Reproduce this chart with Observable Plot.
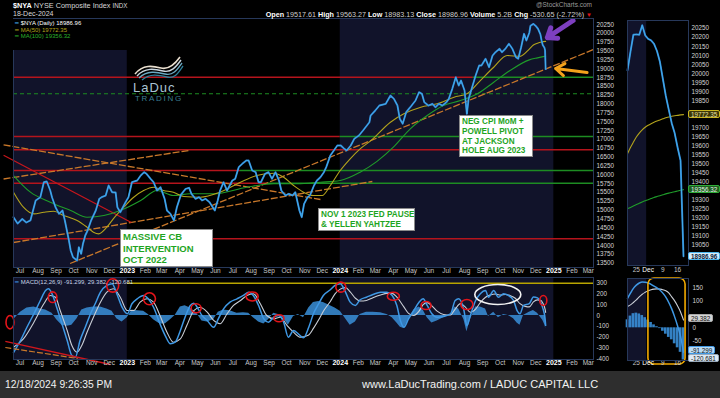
<!DOCTYPE html>
<html><head><meta charset="utf-8">
<script src="https://cdn.jsdelivr.net/npm/d3@7"></script>
<script src="https://cdn.jsdelivr.net/npm/@observablehq/plot@0.6"></script>
<style>
body{margin:0;background:#000;}
#chart{position:relative;width:720px;height:398px;overflow:hidden;background:#000;font-family:"Liberation Sans",Arial,sans-serif;color:#ddd;}
.abs{position:absolute;white-space:nowrap;}
.note{position:absolute;background:#fff;border:1px solid #8a8a8a;color:#1fa51f;font-weight:bold;white-space:nowrap;box-sizing:border-box;}
.vbox{position:absolute;font-size:6.3px;padding:0 2px;line-height:7.5px;height:8px;border:1px solid;border-radius:2px;box-sizing:border-box;}
</style></head><body>
<div id="chart"></div>
<script>
// ---------------- DATA ----------------
const nyaClose = [["2022-06-20",14800],["2022-06-27",14620],["2022-07-05",14750],["2022-07-12",14650],["2022-07-19",14710],["2022-07-28",15273],["2022-08-05",15366],["2022-08-11",15790],["2022-08-16",15810],["2022-08-22",15555],["2022-08-25",15366],["2022-08-31",15083],["2022-09-06",14896],["2022-09-12",14990],["2022-09-16",14707],["2022-09-23",14141],["2022-09-26",13858],["2022-09-30",13669],["2022-10-07",13575],["2022-10-10",13952],["2022-10-14",13763],["2022-10-17",14046],["2022-10-21",14283],["2022-10-25",14424],["2022-10-31",14707],["2022-11-08",14990],["2022-11-14",15320],["2022-11-18",15366],["2022-11-25",15414],["2022-11-30",15697],["2022-12-06",15508],["2022-12-12",15500],["2022-12-15",15083],["2022-12-20",14942],["2022-12-29",15225],["2023-01-03",15366],["2023-01-09",15790],["2023-01-18",15838],["2023-01-24",15980],["2023-01-30",16074],["2023-02-03",16027],["2023-02-10",15886],["2023-02-15",15790],["2023-02-21",15555],["2023-02-27",15649],["2023-03-06",15320],["2023-03-10",14990],["2023-03-16",14896],["2023-03-22",14707],["2023-03-27",15083],["2023-04-03",15440],["2023-04-11",15604],["2023-04-17",15632],["2023-04-21",15462],["2023-04-28",15320],["2023-05-04",15366],["2023-05-09",15273],["2023-05-15",15320],["2023-05-22",15225],["2023-05-31",14990],["2023-06-05",15273],["2023-06-09",15555],["2023-06-15",15790],["2023-06-21",15555],["2023-06-30",15838],["2023-07-05",15886],["2023-07-11",16215],["2023-07-17",16310],["2023-07-24",16404],["2023-07-28",16404],["2023-08-03",16121],["2023-08-09",16074],["2023-08-14",15790],["2023-08-18",15790],["2023-08-25",16027],["2023-08-31",16074],["2023-09-06",15886],["2023-09-12",16074],["2023-09-18",15838],["2023-09-22",15555],["2023-09-29",15414],["2023-10-05",15462],["2023-10-11",15414],["2023-10-16",15508],["2023-10-23",14990],["2023-10-27",14801],["2023-10-31",15178],["2023-11-06",15366],["2023-11-10",15414],["2023-11-17",15697],["2023-11-22",15838],["2023-11-28",15932],["2023-12-04",16074],["2023-12-08",16215],["2023-12-15",16545],["2023-12-21",16687],["2023-12-27",16828],["2024-01-02",16828],["2024-01-08",16734],["2024-01-12",16687],["2024-01-19",16828],["2024-01-25",17017],["2024-02-02",17111],["2024-02-09",17252],["2024-02-20",17487],["2024-02-22",17676],["2024-03-01",17818],["2024-03-08",17959],["2024-03-19",18007],["2024-03-27",18242],["2024-04-02",18148],["2024-04-08",17959],["2024-04-12",17583],["2024-04-17",17442],["2024-04-23",17770],["2024-04-30",17911],["2024-05-09",18101],["2024-05-15",18336],["2024-05-20",18290],["2024-05-24",18053],["2024-05-31",17959],["2024-06-07",18007],["2024-06-12",17911],["2024-06-18",18007],["2024-06-24",17959],["2024-07-01",18053],["2024-07-05",18148],["2024-07-11",18431],["2024-07-17",18760],["2024-07-22",18525],["2024-07-26",18666],["2024-08-01",18383],["2024-08-05",17724],["2024-08-08",18148],["2024-08-14",18477],["2024-08-20",18808],["2024-08-26",19090],["2024-08-30",19090],["2024-09-06",19280],["2024-09-12",19042],["2024-09-18",19373],["2024-09-23",19467],["2024-09-30",19563],["2024-10-04",19467],["2024-10-10",19563],["2024-10-16",19704],["2024-10-22",19563],["2024-10-28",19325],["2024-11-01",19280],["2024-11-06",19608],["2024-11-11",19987],["2024-11-15",19798],["2024-11-20",20017],["2024-11-22",20215],["2024-11-27",20268],["2024-12-02",20192],["2024-12-05",20125],["2024-12-09",19970],["2024-12-11",19800],["2024-12-13",19670],["2024-12-16",19590],["2024-12-17",19517.61],["2024-12-18",18986.96]];

const ma50 = [["2022-06-20",15508],["2022-07-07",15083],["2022-07-25",14896],["2022-08-11",14942],["2022-08-28",14970],["2022-09-14",14848],["2022-10-07",14707],["2022-10-24",14518],["2022-11-04",14377],["2022-11-13",14330],["2022-11-27",14518],["2022-12-08",14754],["2022-12-26",15083],["2023-01-12",15366],["2023-01-29",15555],["2023-02-15",15649],["2023-03-04",15555],["2023-03-21",15508],["2023-04-08",15386],["2023-05-06",15366],["2023-06-09",15508],["2023-07-14",15790],["2023-08-11",15980],["2023-09-09",16045],["2023-09-26",15932],["2023-10-13",15697],["2023-10-30",15508],["2023-11-16",15414],["2023-12-01",15414],["2023-12-15",15697],["2024-01-01",16121],["2024-01-18",16452],["2024-02-04",16734],["2024-02-22",16960],["2024-03-27",17487],["2024-04-19",17724],["2024-05-18",17911],["2024-06-15",18007],["2024-07-14",18195],["2024-08-05",18290],["2024-08-28",18666],["2024-09-20",19042],["2024-10-13",19373],["2024-11-04",19350],["2024-11-20",19555],["2024-11-27",19670],["2024-12-04",19722],["2024-12-11",19755],["2024-12-18",19772.35]];

const ma100 = [["2022-06-20",15980],["2022-07-19",15508],["2022-08-22",15225],["2022-09-26",14990],["2022-10-24",14801],["2022-11-22",14848],["2022-12-20",14990],["2023-01-24",15273],["2023-02-21",15555],["2023-03-21",15414],["2023-04-19",15462],["2023-05-29",15462],["2023-07-25",15649],["2023-09-09",15745],["2023-10-19",15745],["2023-11-28",15790],["2024-01-01",15838],["2024-02-04",16074],["2024-03-04",16380],["2024-04-01",16781],["2024-04-30",17300],["2024-05-29",17676],["2024-06-26",17959],["2024-07-25",18101],["2024-08-23",18290],["2024-09-20",18619],["2024-10-18",18949],["2024-11-20",19250],["2024-12-04",19307],["2024-12-18",19356.32]];

const macdLine = [["2022-06-20",-344],["2022-07-02",-232],["2022-07-13",-109],["2022-07-25",16],["2022-08-05",139],["2022-08-14",232],["2022-08-19",248],["2022-08-25",202],["2022-09-02",77],["2022-09-11",-77],["2022-09-20",-232],["2022-09-28",-372],["2022-10-04",-387],["2022-10-12",-232],["2022-10-21",-109],["2022-10-30",16],["2022-11-07",109],["2022-11-16",217],["2022-11-27",279],["2022-12-06",294],["2022-12-14",202],["2022-12-23",77],["2023-01-01",16],["2023-01-09",109],["2023-01-18",155],["2023-01-29",186],["2023-02-06",155],["2023-02-15",77],["2023-02-26",-77],["2023-03-07",-186],["2023-03-16",-263],["2023-03-24",-248],["2023-04-02",-139],["2023-04-10",-16],["2023-04-19",93],["2023-04-25",114],["2023-04-30",84],["2023-05-09",0],["2023-05-18",-46],["2023-05-29",-109],["2023-06-06",-31],["2023-06-15",62],["2023-06-26",124],["2023-07-08",155],["2023-07-19",186],["2023-07-28",217],["2023-08-05",186],["2023-08-14",93],["2023-08-23",-31],["2023-08-31",-62],["2023-09-09",-16],["2023-09-17",0],["2023-09-26",-62],["2023-10-04",-201],["2023-10-13",-139],["2023-10-21",-170],["2023-10-30",-207],["2023-11-08",-109],["2023-11-16",16],["2023-11-25",109],["2023-12-03",186],["2023-12-15",239],["2023-12-23",279],["2024-01-01",294],["2024-01-10",217],["2024-01-18",124],["2024-01-27",93],["2024-02-04",146],["2024-02-15",170],["2024-02-26",195],["2024-03-10",217],["2024-03-21",217],["2024-03-30",186],["2024-04-07",93],["2024-04-13",-46],["2024-04-19",-109],["2024-04-27",-31],["2024-05-06",46],["2024-05-15",124],["2024-05-22",155],["2024-05-29",93],["2024-06-06",16],["2024-06-15",-16],["2024-06-26",-9],["2024-07-08",16],["2024-07-16",139],["2024-07-22",155],["2024-07-31",46],["2024-08-05",-93],["2024-08-11",0],["2024-08-20",139],["2024-08-28",202],["2024-09-06",232],["2024-09-11",170],["2024-09-20",232],["2024-09-28",170],["2024-10-07",202],["2024-10-15",186],["2024-10-24",139],["2024-10-30",46],["2024-11-04",16],["2024-11-10",93],["2024-11-20",110],["2024-11-27",172],["2024-12-04",163],["2024-12-10",115],["2024-12-13",71],["2024-12-17",-32],["2024-12-18",-91.299]];

const macdSignal = [["2022-06-20",-294],["2022-07-07",-217],["2022-07-25",-62],["2022-08-11",109],["2022-08-22",186],["2022-08-31",170],["2022-09-08",46],["2022-09-20",-139],["2022-09-28",-279],["2022-10-07",-341],["2022-10-15",-279],["2022-10-24",-155],["2022-11-04",-16],["2022-11-16",124],["2022-11-27",217],["2022-12-08",248],["2022-12-20",170],["2023-01-01",46],["2023-01-12",46],["2023-01-23",124],["2023-02-04",155],["2023-02-15",124],["2023-02-26",0],["2023-03-10",-155],["2023-03-21",-248],["2023-04-02",-217],["2023-04-13",-93],["2023-04-25",46],["2023-05-06",77],["2023-05-18",31],["2023-05-29",-46],["2023-06-09",-77],["2023-06-21",16],["2023-07-02",93],["2023-07-14",139],["2023-07-25",186],["2023-08-05",202],["2023-08-17",109],["2023-08-28",0],["2023-09-09",-31],["2023-09-20",-16],["2023-10-02",-93],["2023-10-13",-155],["2023-10-24",-201],["2023-11-08",-180],["2023-11-16",-120],["2023-11-25",-40],["2023-12-03",40],["2023-12-15",130],["2023-12-23",200],["2024-01-01",245],["2024-01-10",260],["2024-01-18",220],["2024-01-27",160],["2024-02-04",135],["2024-02-15",140],["2024-02-26",165],["2024-03-10",190],["2024-03-21",205],["2024-03-30",205],["2024-04-07",170],["2024-04-19",80],["2024-04-27",20],["2024-05-06",0],["2024-05-15",40],["2024-05-22",100],["2024-05-29",120],["2024-06-06",90],["2024-06-15",40],["2024-06-26",10],["2024-07-08",5],["2024-07-16",60],["2024-07-25",110],["2024-08-02",80],["2024-08-11",30],["2024-08-20",60],["2024-08-28",120],["2024-09-06",170],["2024-09-14",190],["2024-09-23",200],["2024-10-01",190],["2024-10-10",195],["2024-10-18",185],["2024-10-27",160],["2024-11-04",110],["2024-11-13",85],["2024-11-20",80],["2024-11-27",126],["2024-12-04",145],["2024-12-10",139],["2024-12-13",116],["2024-12-17",59.5],["2024-12-18",29.382]];

const macdHist = [["2022-06-20",-40],["2022-07-02",30],["2022-07-13",70],["2022-07-25",80],["2022-08-05",60],["2022-08-14",50],["2022-08-25",20],["2022-09-02",-40],["2022-09-11",-90],["2022-09-20",-100],["2022-09-28",-90],["2022-10-07",-30],["2022-10-15",50],["2022-10-24",70],["2022-11-04",80],["2022-11-16",80],["2022-11-27",60],["2022-12-06",40],["2022-12-14",-30],["2022-12-23",-60],["2023-01-01",-20],["2023-01-09",50],["2023-01-18",45],["2023-01-29",40],["2023-02-06",10],["2023-02-15",-40],["2023-02-26",-80],["2023-03-07",-80],["2023-03-16",-40],["2023-03-24",0],["2023-04-02",80],["2023-04-10",90],["2023-04-19",70],["2023-04-30",20],["2023-05-09",-50],["2023-05-18",-60],["2023-05-29",-40],["2023-06-06",30],["2023-06-15",50],["2023-06-26",45],["2023-07-08",20],["2023-07-19",25],["2023-07-28",20],["2023-08-05",-20],["2023-08-14",-60],["2023-08-23",-80],["2023-08-31",-40],["2023-09-09",20],["2023-09-17",10],["2023-09-26",-30],["2023-10-04",-90],["2023-10-13",-10],["2023-10-21",10],["2023-10-30",-20],["2023-11-08",70],["2023-11-16",120],["2023-11-25",130],["2023-12-03",120],["2023-12-15",90],["2023-12-23",70],["2024-01-01",40],["2024-01-10",-30],["2024-01-18",-90],["2024-01-27",-60],["2024-02-04",10],["2024-02-15",30],["2024-02-26",30],["2024-03-10",25],["2024-03-21",10],["2024-03-30",-20],["2024-04-07",-70],["2024-04-13",-110],["2024-04-19",-120],["2024-04-27",-40],["2024-05-06",50],["2024-05-15",80],["2024-05-22",50],["2024-05-29",-20],["2024-06-06",-70],["2024-06-15",-50],["2024-06-26",-20],["2024-07-08",10],["2024-07-16",80],["2024-07-22",60],["2024-07-31",-40],["2024-08-05",-150],["2024-08-11",-40],["2024-08-20",80],["2024-08-28",80],["2024-09-06",60],["2024-09-11",-10],["2024-09-20",30],["2024-09-28",-20],["2024-10-07",10],["2024-10-15",0],["2024-10-24",-30],["2024-10-30",-70],["2024-11-04",-90],["2024-11-10",0],["2024-11-20",30],["2024-11-27",46],["2024-12-04",20],["2024-12-10",-24],["2024-12-13",-45],["2024-12-17",-92],["2024-12-18",-120.681]];

// zoomed inset (last 20 sessions)
const insetDates = ["2024-11-20","2024-11-21","2024-11-22","2024-11-25","2024-11-26","2024-11-27","2024-11-29","2024-12-02","2024-12-03","2024-12-04","2024-12-05","2024-12-06","2024-12-09","2024-12-10","2024-12-11","2024-12-12","2024-12-13","2024-12-16","2024-12-17","2024-12-18"];
const insetClose = [20017,20120,20215,20217,20215,20268,20212,20192,20184,20165,20125,20065,19970,19876,19800,19725,19670,19590,19517.61,18986.96];
const insetMA50 = [19555,19590,19620,19648,19670,19688,19702,19713,19722,19730,19737,19743,19749,19755,19759,19763,19766,19768,19771,19772.35];
const insetMA100 = [19250,19258,19266,19274,19281,19288,19295,19301,19307,19313,19318,19323,19328,19333,19337,19341,19345,19349,19353,19356.32];
const insetMACD = [110,130,148,160,168,172,171,168,163,156,150,142,130,115,95,71,41,7,-32,-91.299];
const insetSignal = [80,86,95,105,116,126,133,139,143,145,146,145,143,139,131,116,101,82,59.5,29.382];
const insetHist = [30,44,53,55,52,46,38,29,20,11,4,-3,-13,-24,-36,-45,-60,-75,-92,-120.681];

// horizontal support / resistance levels
const redLevels = [{v:18760,from:"2022-06-20",to:"2024-08-16"},{v:17083,from:"2022-06-20",to:"2024-01-01"},{v:16707,from:"2022-06-20",to:"2025-03-10"},{v:16121,from:"2022-06-20",to:"2023-07-14"},{v:15762,from:"2022-06-20",to:"2023-08-29"},{v:14190,from:"2022-06-20",to:"2025-03-10"}];
const greenLevels = [{v:18760,from:"2024-08-16",to:"2025-03-10"},{v:17083,from:"2024-01-01",to:"2025-03-10"},{v:16121,from:"2023-07-14",to:"2025-03-10"},{v:15762,from:"2023-08-29",to:"2025-03-10"}];
const dashedLevels = [{v:18290,from:"2022-06-20",to:"2025-03-10"}];
// trend lines
const orangeTrends = [
  {a:"2022-09-25",va:13491,b:"2025-03-10",vb:19543},
  {a:"2022-06-20",va:14085,b:"2024-02-25",vb:15810},
  {a:"2022-06-03",va:16848,b:"2023-11-28",vb:15301},
  {a:"2022-06-03",va:15881,b:"2023-04-16",vb:16687}];
const redTrends = [{a:"2022-06-03",va:16554,b:"2023-01-08",vb:14650}];
const macdRedTrend = [{a:"2022-06-06",va:-241,b:"2022-12-03",vb:-455}];
const macdOrangeTrend = [{a:"2022-06-06",va:-297,b:"2022-10-08",vb:-399}];
const purpleArrow = [{a:"2025-02-03",va:20363,b:"2024-12-21",vb:19882}];
const orangeArrow = [{a:"2025-02-27",va:18893,b:"2025-01-04",vb:19006}];
const macdCircles = [
  {d:"2022-06-14",v:-62,rx:4,ry:6.7},{d:"2022-08-26",v:170,rx:4.3,ry:5.3},{d:"2022-12-07",v:279,rx:6,ry:6.7},
  {d:"2023-02-08",v:155,rx:6,ry:6},{d:"2023-04-29",v:68,rx:5,ry:4.5},{d:"2023-08-03",v:177,rx:6,ry:4.5},
  {d:"2023-09-18",v:-25,rx:5,ry:3.5},{d:"2024-01-02",v:263,rx:5,ry:5},{d:"2024-04-01",v:179,rx:6,ry:4},
  {d:"2024-05-27",v:93,rx:5,ry:4},{d:"2024-08-05",v:102,rx:6,ry:5},{d:"2024-12-14",v:139,rx:3.5,ry:5}];
const macdWhiteEllipse = [{d:"2024-09-27",v:195,rx:23,ry:10}];
const yearBands = [{a:"2022-06-20",b:"2023-01-01"},{a:"2024-01-01",b:"2025-01-01"}];
const insetBands = [{a:0,b:6.5}];
const insetBox = [{a:7.1,b:19.7,lo:-137.6,hi:184.9}];

// ticks (labels hidden under value boxes are left out, as in the reference)
const monthTicks = d3.utcMonth.range(new Date("2022-07-01"), new Date("2025-03-02"));
const priceTicks = d3.range(13500, 20251, 250);
const macdTicks = d3.range(-400, 301, 100);
const insetPriceTicks = d3.range(19050, 20251, 50).filter(v => v !== 19750 && v !== 19800 && v !== 19350);
const insetMacdTicks = [150, 100, 0, -50];
const insetLabels = [{d:"2024-11-25",t:"25",b:false},{d:"2024-12-02",t:"Dec",b:true},{d:"2024-12-09",t:"9",b:false},{d:"2024-12-16",t:"16",b:false}];

// -------------- BUILD --------------
const P = (arr) => arr.map(([d, v]) => ({date: new Date(d), value: v}));
const price = P(nyaClose), m50 = P(ma50), m100 = P(ma100);
const mLine = P(macdLine), mSig = P(macdSignal), mHist = P(macdHist);
const inset = insetDates.map((d, i) => ({i, date: d, close: insetClose[i], ma50: insetMA50[i], ma100: insetMA100[i], macd: insetMACD[i], sig: insetSignal[i], hist: insetHist[i]}));
const D = s => new Date(s);
const NAVY = "#11132a", FRAME = "#27385a";
const CYAN = "#45b2ec", OLIVE = "#b3a31c", GREEN = "#1f9c2a", REDL = "#b5141c", ORANGE = "#c9782a";
const xDom = [D("2022-06-20"), D("2025-03-10")];
const baseStyle = {background: "transparent", color: "#d2d2d2", fontFamily: "Liberation Sans, Arial, sans-serif", fontSize: "6.3px", overflow: "visible"};
const otherMonths = monthTicks.filter(d => d.getUTCMonth() !== 0);
const janMonths = monthTicks.filter(d => d.getUTCMonth() === 0);
const monFmt = d3.utcFormat("%b");

function monthLabels(dy) {
  return [
    Plot.text(otherMonths, {x: d => d, text: d => monFmt(d), frameAnchor: "bottom", dy, fontSize: 6.5, fill: "#c8c8c8"}),
    Plot.text(janMonths, {x: d => d, text: d => String(d.getUTCFullYear()), frameAnchor: "bottom", dy, fontSize: 7, fontWeight: "bold", fill: "#ffffff"})
  ];
}
function ellipseSymbol(aspect) {
  return {draw(ctx, size) {
    const rx = Math.sqrt(size / Math.PI), ry = rx * aspect, k = 0.5523;
    ctx.moveTo(rx, 0);
    ctx.bezierCurveTo(rx, ry * k, rx * k, ry, 0, ry);
    ctx.bezierCurveTo(-rx * k, ry, -rx, ry * k, -rx, 0);
    ctx.bezierCurveTo(-rx, -ry * k, -rx * k, -ry, 0, -ry);
    ctx.bezierCurveTo(rx * k, -ry, rx, -ry * k, rx, 0);
    ctx.closePath();
  }};
}
const link = (arr, opts) => Plot.link(arr, {x1: d => D(d.a), y1: "va", x2: d => D(d.b), y2: "vb", ...opts});

const mainPlot = Plot.plot({
  width: 720, height: 398, marginLeft: 13, marginRight: 127, marginTop: 18, marginBottom: 131,
  style: baseStyle,
  x: {type: "utc", domain: xDom, axis: null},
  y: {domain: [13378, 20420], axis: null},
  marks: [
    Plot.rect(yearBands, {x1: d => D(d.a), x2: d => D(d.b), fill: NAVY}),
    Plot.ruleY(redLevels, {y: "v", x1: d => D(d.from), x2: d => D(d.to), stroke: REDL, strokeWidth: 1.6}),
    Plot.ruleY(greenLevels, {y: "v", x1: d => D(d.from), x2: d => D(d.to), stroke: "#1d8c22", strokeWidth: 1.4}),
    Plot.ruleY(dashedLevels, {y: "v", x1: d => D(d.from), x2: d => D(d.to), stroke: "#1d8c22", strokeWidth: 1.1, strokeDasharray: "4,3"}),
    link(orangeTrends, {stroke: ORANGE, strokeWidth: 1.3, strokeDasharray: "7,2"}),
    link(redTrends, {stroke: "#c8161c", strokeWidth: 1.2}),
    Plot.line(m100, {x: "date", y: "value", stroke: GREEN, strokeWidth: 1.1, curve: "monotone-x"}),
    Plot.line(m50, {x: "date", y: "value", stroke: OLIVE, strokeWidth: 1.1, curve: "monotone-x"}),
    Plot.line(price, {x: "date", y: "value", stroke: "#2f80d0", strokeWidth: 1.9}),
    Plot.line(price, {x: "date", y: "value", stroke: CYAN, strokeWidth: 0.9}),
    ...monthLabels(5),
    Plot.text(priceTicks, {y: d => d, text: d => String(d), frameAnchor: "right", dx: 3, textAnchor: "start", fill: "#d4d4d4"}),
    Plot.arrow(purpleArrow, {x1: d => D(d.a), y1: "va", x2: d => D(d.b), y2: "vb", stroke: "#7d3fbf", strokeWidth: 5, headLength: 11, headAngle: 75}),
    Plot.arrow(orangeArrow, {x1: d => D(d.a), y1: "va", x2: d => D(d.b), y2: "vb", stroke: "#f4a21b", strokeWidth: 3, headLength: 8, headAngle: 70}),
    Plot.frame({stroke: FRAME})
  ]
});

const macdPlot = Plot.plot({
  width: 720, height: 398, marginLeft: 13, marginRight: 127, marginTop: 277, marginBottom: 39,
  style: baseStyle,
  x: {type: "utc", domain: xDom, axis: null},
  y: {domain: [-408.5, 352.8], axis: null},
  marks: [
    Plot.rect(yearBands, {x1: d => D(d.a), x2: d => D(d.b), fill: NAVY}),
    Plot.ruleY([{v: 300, a: "2023-01-01", b: "2025-03-10"}], {y: "v", x1: d => D(d.a), x2: d => D(d.b), stroke: "#b8a400", strokeWidth: 1.5}),
    Plot.areaY(mHist, {x: "date", y: "value", fill: "#3a8fd8", fillOpacity: 0.85}),
    Plot.line(mSig, {x: "date", y: "value", stroke: "#c9ced6", strokeWidth: 1.1, curve: "monotone-x"}),
    Plot.line(mLine, {x: "date", y: "value", stroke: "#3f98e4", strokeWidth: 1.5, curve: "monotone-x"}),
    link(macdRedTrend, {stroke: "#d0161c", strokeWidth: 1.3}),
    link(macdOrangeTrend, {stroke: ORANGE, strokeWidth: 1.2, strokeDasharray: "6,2"}),
    ...macdCircles.map(c => Plot.dot([c], {x: d => D(d.d), y: "v", r: c.rx, symbol: ellipseSymbol(c.ry / c.rx), stroke: "#e3141a", strokeWidth: 1.6, fill: "none"})),
    ...macdWhiteEllipse.map(c => Plot.dot([c], {x: d => D(d.d), y: "v", r: c.rx, symbol: ellipseSymbol(c.ry / c.rx), stroke: "#f2f2f2", strokeWidth: 1.6, fill: "none"})),
    ...monthLabels(5),
    Plot.text(macdTicks, {y: d => d, text: d => String(d), frameAnchor: "right", dx: 3, textAnchor: "start", fill: "#d4d4d4"}),
    Plot.frame({stroke: FRAME})
  ]
});

const insetX = {type: "linear", domain: [0, 19], range: [627, 683], axis: null};
const insetPricePlot = Plot.plot({
  width: 720, height: 398, marginLeft: 627, marginRight: 32, marginTop: 20, marginBottom: 133,
  style: baseStyle,
  x: insetX,
  y: {domain: [18936, 20294], axis: null},
  marks: [
    Plot.rect(insetBands, {x1: "a", x2: "b", fill: NAVY}),
    Plot.line(inset, {x: "i", y: "ma100", stroke: GREEN, strokeWidth: 1.1, curve: "monotone-x"}),
    Plot.line(inset, {x: "i", y: "ma50", stroke: OLIVE, strokeWidth: 1.1, curve: "monotone-x"}),
    Plot.line(inset, {x: "i", y: "close", stroke: "#2f80d0", strokeWidth: 1.9}),
    Plot.line(inset, {x: "i", y: "close", stroke: CYAN, strokeWidth: 0.9}),
    Plot.text(insetPriceTicks, {y: d => d, text: d => String(d), frameAnchor: "right", dx: 3, textAnchor: "start", fill: "#d4d4d4"}),
    Plot.text(insetLabels, {x: d => insetDates.indexOf(d.d), text: "t", frameAnchor: "bottom", dy: 6, fontSize: 6.5, fill: d => d.b ? "#fff" : "#c8c8c8", fontWeight: d => d.b ? "bold" : "normal"}),
    Plot.frame({stroke: FRAME})
  ]
});

const insetMacdPlot = Plot.plot({
  width: 720, height: 398, marginLeft: 627, marginRight: 32, marginTop: 278, marginBottom: 38,
  style: baseStyle,
  x: insetX,
  y: {domain: [-122.6, 184.9], axis: null},
  marks: [
    Plot.rect(insetBands, {x1: "a", x2: "b", fill: NAVY}),
    Plot.rectY(inset, {x1: d => d.i - 0.45, x2: d => d.i + 0.45, y: "hist", fill: "#3a8fd8", fillOpacity: 0.9}),
    Plot.line(inset, {x: "i", y: "sig", stroke: "#c9ced6", strokeWidth: 1.1, curve: "monotone-x"}),
    Plot.line(inset, {x: "i", y: "macd", stroke: "#3f98e4", strokeWidth: 1.5, curve: "monotone-x"}),
    Plot.rect(insetBox, {x1: "a", x2: "b", y1: "lo", y2: "hi", rx: 6, stroke: "#f2a900", strokeWidth: 1.6, fill: "none"}),
    Plot.text(insetMacdTicks, {y: d => d, text: d => String(d), frameAnchor: "right", dx: 4, textAnchor: "start", fill: "#d4d4d4"}),
    Plot.text(insetLabels, {x: d => insetDates.indexOf(d.d), text: "t", frameAnchor: "bottom", dy: 4, fontSize: 6.5, fill: d => d.b ? "#fff" : "#c8c8c8", fontWeight: d => d.b ? "bold" : "normal"}),
    Plot.frame({stroke: FRAME})
  ]
});

const chart = document.getElementById("chart");
for (const p of [mainPlot, macdPlot, insetPricePlot, insetMacdPlot]) {
  p.style.position = "absolute"; p.style.left = "0px"; p.style.top = "0px";
  p.style.maxWidth = "none";
  chart.appendChild(p);
}

function add(html) { chart.insertAdjacentHTML("beforeend", html); }
// header
add(`<div class="abs" style="left:13px;top:1px;font-size:7.3px;color:#d8d8d8"><b style="color:#fff">$NYA</b> NYSE Composite Index <span style="font-size:6.3px">INDX</span></div>`);
add(`<div class="abs" style="left:13px;top:10px;font-size:7px;color:#d8d8d8">18-Dec-2024</div>`);
add(`<div class="abs" style="right:128px;top:10px;font-size:7.2px;color:#cfcfcf"><b style="color:#fff">Open</b> 19517.61 <b style="color:#fff">High</b> 19563.27 <b style="color:#fff">Low</b> 18983.13 <b style="color:#fff">Close</b> 18986.96 <b style="color:#fff">Volume</b> 5.2B <b style="color:#fff">Chg</b> -530.65 (-2.72%) <span style="color:#e0141a;font-size:6px">▼</span></div>`);
add(`<div class="abs" style="right:128px;top:1px;font-size:6.5px;color:#9a9a9a">@StockCharts.com</div>`);
// price legend
add(`<div class="abs" style="left:13px;top:19px;width:114px;height:31px;background:#000"></div>`);
add(`<div class="abs" style="left:15px;top:20px;font-size:6px;line-height:6.6px;color:#fff"><span style="color:${CYAN}">━</span> $NYA (Daily) 18986.96<br><span style="color:${OLIVE}">━ MA(50) 19772.35</span><br><span style="color:#2bb12b">━ MA(100) 19356.32</span></div>`);
// macd legend
add(`<div class="abs" style="left:15px;top:278px;font-size:6px;color:#c9d6e6"><span style="color:#3f98e4">━</span> MACD(12,26,9) -91.299, 29.382, -120.681</div>`);
// logo
add(`<svg class="abs" style="left:130px;top:54px" width="60" height="28" viewBox="0 0 60 28">
 <path d="M5,20 C13,10 23,12 31,14 S45,10 50,3" fill="none" stroke="#eadfcf" stroke-width="1.6"/>
 <path d="M7,22 C15,13 25,15 33,17 S46,13 51,6" fill="none" stroke="#c9d5de" stroke-width="1.4"/>
 <path d="M9,24 C17,16 27,18 35,20 S47,16 52,9" fill="none" stroke="#6aa9c2" stroke-width="1.4"/>
 <path d="M12,26 C20,19 29,21 37,23 S48,19 53,12" fill="none" stroke="#2f7f9a" stroke-width="1.3"/>
</svg>`);
add(`<div class="abs" style="left:133px;top:80px;font-size:13px;letter-spacing:1px;color:#a9c3d3">LaDuc</div>`);
add(`<div class="abs" style="left:135px;top:94px;font-size:8px;letter-spacing:1.7px;color:#3b7f93">TRADING</div>`);
// notes
add(`<div class="note" style="left:120px;top:229px;width:93px;height:38px;font-size:9.5px;line-height:11.6px;padding:1px 2px">MASSIVE CB<br>INTERVENTION<br>OCT 2022</div>`);
add(`<div class="note" style="left:318px;top:208px;width:97px;height:23px;font-size:8.2px;line-height:10px;padding:1px 2px">NOV 1 2023 FED PAUSE<br>&amp; YELLEN YAHTZEE</div>`);
add(`<div class="note" style="left:459px;top:115px;width:74px;height:42px;font-size:8.2px;line-height:9.8px;padding:1px 2px">NEG CPI MoM +<br>POWELL PIVOT<br>AT JACKSON<br>HOLE AUG 2023</div>`);
// value boxes on inset axes
const yP = insetPricePlot.scale("y"), yM = insetMacdPlot.scale("y");
const ap = (s, v) => s.apply ? s.apply(v) : d3.scaleLinear(s.domain, s.range)(v);
function vbox(y, text, bg, border, color, bold) {
  add(`<div class="vbox" style="left:688px;top:${y - 4}px;background:${bg};border-color:${border};color:${color};${bold ? "font-weight:bold;" : ""}">${text}</div>`);
}
vbox(ap(yP, 19772.35), "19772.35", "#3b3608", "#c9b620", "#e8e0a0");
vbox(ap(yP, 19356.32), "19356.32", "#1f5e22", "#2fae38", "#e6f5e6");
vbox(ap(yP, 18986.96), "18986.96", "#d6ecfa", "#4cb6ee", "#0b2238", true);
vbox(ap(yM, 29.382) - 1, "29.382", "#d4d4d4", "#aaaaaa", "#111");
vbox(ap(yM, -91.299) - 2, "-91.299", "#bcdcf4", "#3f98e4", "#111");
vbox(ap(yM, -120.681) - 1, "-120.681", "#dde9f4", "#9ab", "#111");
// footer
add(`<div class="abs" style="left:0;top:371px;width:720px;height:27px;background:#2e2e2e"></div>`);
add(`<div class="abs" style="left:5px;top:379px;font-size:10.3px;color:#f2f2f2">12/18/2024 9:26:35 PM</div>`);
add(`<div class="abs" style="left:362px;top:378px;font-size:11px;color:#f2f2f2">www.LaDucTrading.com / LADUC CAPITAL LLC</div>`);
</script></body></html>
